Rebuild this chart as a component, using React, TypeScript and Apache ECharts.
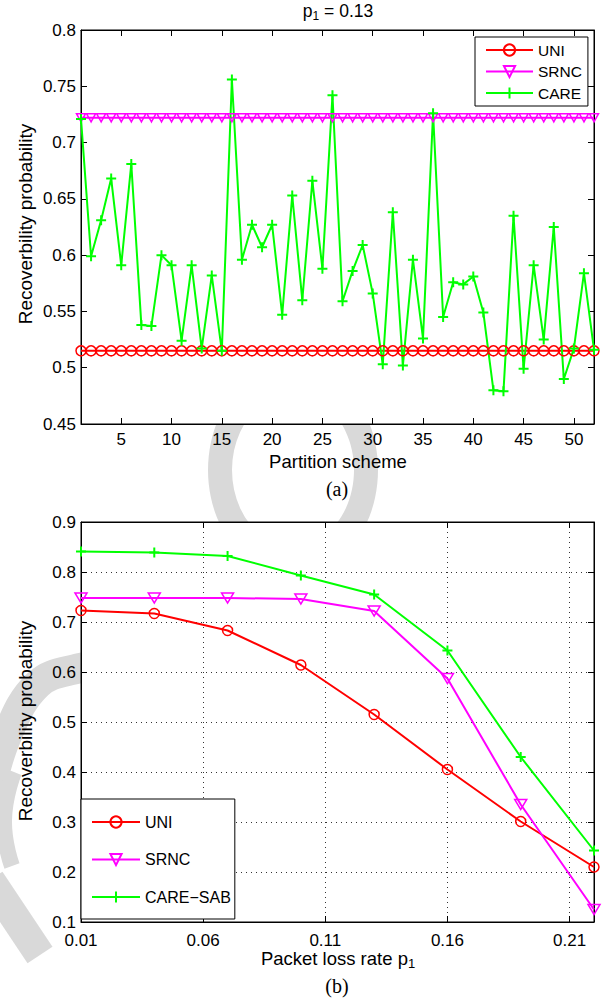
import React, { useEffect, useRef } from "react";
import * as echarts from "echarts";

// ---------- Data: (a) p1 = 0.13 ----------
const partitionSchemes = [
  1, 2, 3, 4, 5, 6, 7, 8, 9, 10, 11, 12, 13, 14, 15, 16, 17, 18, 19, 20, 21, 22, 23, 24, 25, 26,
  27, 28, 29, 30, 31, 32, 33, 34, 35, 36, 37, 38, 39, 40, 41, 42, 43, 44, 45, 46, 47, 48, 49, 50, 51, 52,
];
const schemeTicks = [5, 10, 15, 20, 25, 30, 35, 40, 45, 50];
const uniA = [
  0.515, 0.515, 0.515, 0.515, 0.515, 0.515, 0.515, 0.515, 0.515, 0.515, 0.515, 0.515, 0.515,
  0.515, 0.515, 0.515, 0.515, 0.515, 0.515, 0.515, 0.515, 0.515, 0.515, 0.515, 0.515, 0.515,
  0.515, 0.515, 0.515, 0.515, 0.515, 0.515, 0.515, 0.515, 0.515, 0.515, 0.515, 0.515, 0.515,
  0.515, 0.515, 0.515, 0.515, 0.515, 0.515, 0.515, 0.515, 0.515, 0.515, 0.515, 0.515, 0.515,
];
const srncA = [
  0.722, 0.722, 0.722, 0.722, 0.722, 0.722, 0.722, 0.722, 0.722, 0.722, 0.722, 0.722, 0.722,
  0.722, 0.722, 0.722, 0.722, 0.722, 0.722, 0.722, 0.722, 0.722, 0.722, 0.722, 0.722, 0.722,
  0.722, 0.722, 0.722, 0.722, 0.722, 0.722, 0.722, 0.722, 0.722, 0.722, 0.722, 0.722, 0.722,
  0.722, 0.722, 0.722, 0.722, 0.722, 0.722, 0.722, 0.722, 0.722, 0.722, 0.722, 0.722, 0.722,
];
const careA = [
  0.721, 0.599, 0.631, 0.668, 0.591, 0.681, 0.538, 0.537, 0.6, 0.591, 0.524, 0.591, 0.517,
  0.582, 0.515, 0.756, 0.596, 0.627, 0.607, 0.627, 0.547, 0.653, 0.56, 0.666, 0.588, 0.742,
  0.559, 0.586, 0.609, 0.566, 0.503, 0.638, 0.502, 0.596, 0.526, 0.726, 0.545, 0.576, 0.574,
  0.581, 0.549, 0.48, 0.479, 0.635, 0.499, 0.591, 0.525, 0.625, 0.49, 0.517, 0.584, 0.516,
];

// ---------- Data: (b) ----------
const lossRates = [0.01, 0.04, 0.07, 0.1, 0.13, 0.16, 0.19, 0.22];
const uniB = [0.723, 0.717, 0.683, 0.614, 0.515, 0.405, 0.301, 0.21];
const srncB = [0.748, 0.748, 0.748, 0.746, 0.722, 0.587, 0.335, 0.125];
const careSabB = [0.841, 0.839, 0.832, 0.793, 0.755, 0.643, 0.43, 0.243];

const legendA = ["UNI", "SRNC", "CARE"];
const legendB = ["UNI", "SRNC", "CARE\u2212SAB"];

const FONT = "'Liberation Sans', Arial, Helvetica, sans-serif";
const SERIF = "'Liberation Serif', 'Times New Roman', serif";
const RED = "#ff0000";
const MAG = "#ff00ff";
const GRN = "#00ff00";
const WM = "#d9d9d9";
const PLUS = "path://M0,5L10,5M5,0L5,10";

function mkSeries(
  name: string,
  xs: number[],
  ys: number[],
  color: string,
  symbol: string,
  size: number | number[],
  rotate: number,
  axisIdx: number,
  bw: number
) {
  return {
    type: "line",
    name,
    xAxisIndex: axisIdx,
    yAxisIndex: axisIdx,
    data: xs.map((x, i) => [x, ys[i]]),
    symbol,
    symbolSize: size,
    symbolRotate: rotate,
    showSymbol: true,
    lineStyle: { color, width: 2 },
    itemStyle: { color: "rgba(0,0,0,0)", borderColor: color, borderWidth: bw },
    emphasis: { disabled: true },
    silent: true,
  };
}

const tickStyle = { show: true, inside: true, length: 6, lineStyle: { color: "#000", width: 1 } };
const lineStyleAxis = { show: true, lineStyle: { color: "#000", width: 1 } };
const labelStyle = { fontFamily: FONT, fontSize: 17, color: "#000", lineHeight: 14 };
const dotted = { show: true, lineStyle: { color: "#333", width: 1, type: [1, 4] } };

export default function App() {
  const ref = useRef<HTMLDivElement>(null);

  useEffect(() => {
    if (!ref.current) return;
    const chart = echarts.init(ref.current, undefined, { renderer: "svg" });

    const option: any = {
      animation: false,
      backgroundColor: "#fff",
      grid: [
        { left: 81, top: 30, width: 513, height: 394, show: true, backgroundColor: "#fff", borderColor: "#000", borderWidth: 1 },
        { left: 81, top: 522, width: 513, height: 400, show: true, backgroundColor: "#fff", borderColor: "#000", borderWidth: 1 },
      ],
      xAxis: [
        {
          gridIndex: 0, type: "value", min: 1, max: 52, position: "bottom",
          axisLine: lineStyleAxis,
          axisTick: { ...tickStyle, customValues: schemeTicks },
          axisLabel: { ...labelStyle, margin: 8, customValues: schemeTicks },
          splitLine: { show: false },
        },
        {
          gridIndex: 0, type: "value", min: 1, max: 52, position: "top",
          axisLine: lineStyleAxis,
          axisTick: { ...tickStyle, customValues: schemeTicks },
          axisLabel: { show: false, customValues: schemeTicks },
          splitLine: { show: false },
        },
        {
          gridIndex: 1, type: "value", min: 0.01, max: 0.22, interval: 0.05, position: "bottom",
          axisLine: lineStyleAxis,
          axisTick: tickStyle,
          axisLabel: { ...labelStyle, margin: 11, showMaxLabel: false, formatter: (v: number) => v.toFixed(2) },
          splitLine: dotted,
        },
        {
          gridIndex: 1, type: "value", min: 0.01, max: 0.22, interval: 0.05, position: "top",
          axisLine: lineStyleAxis,
          axisTick: tickStyle,
          axisLabel: { show: false },
          splitLine: { show: false },
        },
      ],
      yAxis: [
        {
          gridIndex: 0, type: "value", min: 0.45, max: 0.8, interval: 0.05, position: "left",
          axisLine: lineStyleAxis, axisTick: tickStyle,
          axisLabel: { ...labelStyle, margin: 5 },
          splitLine: { show: false },
        },
        {
          gridIndex: 0, type: "value", min: 0.45, max: 0.8, interval: 0.05, position: "right",
          axisLine: lineStyleAxis, axisTick: tickStyle,
          axisLabel: { show: false },
          splitLine: { show: false },
        },
        {
          gridIndex: 1, type: "value", min: 0.1, max: 0.9, interval: 0.1, position: "left",
          axisLine: lineStyleAxis, axisTick: tickStyle,
          axisLabel: { ...labelStyle, margin: 5 },
          splitLine: dotted,
        },
        {
          gridIndex: 1, type: "value", min: 0.1, max: 0.9, interval: 0.1, position: "right",
          axisLine: lineStyleAxis, axisTick: tickStyle,
          axisLabel: { show: false },
          splitLine: { show: false },
        },
      ],
      legend: [
        {
          left: 475, top: 37, orient: "vertical", data: legendA,
          padding: [5, 6, 5, 10], itemWidth: 47, itemHeight: 14, itemGap: 5.5,
          borderColor: "#000", borderWidth: 1, backgroundColor: "#fff", borderRadius: 0,
          textStyle: { fontFamily: FONT, fontSize: 15.5, color: "#000" },
          selectedMode: false,
        },
        {
          left: 81, top: 799, orient: "vertical", data: legendB,
          padding: [15, 4, 14, 10], itemWidth: 48, itemHeight: 14, itemGap: 21.5,
          borderColor: "#000", borderWidth: 1, backgroundColor: "#fff", borderRadius: 0,
          textStyle: { fontFamily: FONT, fontSize: 16, color: "#000" },
          selectedMode: false,
        },
      ],
      series: [
        mkSeries(legendA[0], partitionSchemes, uniA, RED, "circle", 10, 0, 0, 1.5),
        mkSeries(legendA[1], partitionSchemes, srncA, MAG, "triangle", [9, 8], 180, 0, 1.5),
        mkSeries(legendA[2], partitionSchemes, careA, GRN, PLUS, 10, 0, 0, 2),
        mkSeries(legendB[0], lossRates, uniB, RED, "circle", 10, 0, 2, 1.5),
        mkSeries(legendB[1], lossRates, srncB, MAG, "triangle", [12, 10], 180, 2, 1.5),
        mkSeries(legendB[2], lossRates, careSabB, GRN, PLUS, 10, 0, 2, 2),
      ],
      graphic: [
        // watermark pieces behind the plot areas
        {
          type: "ring", z: -10, x: 293, y: 470, scaleY: 1.25,
          shape: { cx: 0, cy: 0, r: 85, r0: 61 },
          style: { fill: WM },
        },
        {
          type: "polyline", z: -10,
          shape: { points: [[-12, 800], [6, 738], [38, 684], [80, 668], [95, 668]], smooth: 0.4 },
          style: { stroke: WM, lineWidth: 30, fill: null },
        },
        {
          type: "polyline", z: -10,
          shape: { points: [[14, 772], [4, 820], [12, 866]], smooth: 0.5 },
          style: { stroke: WM, lineWidth: 16, fill: null },
        },
        {
          type: "polyline", z: -10,
          shape: { points: [[-10, 880], [40, 955]] },
          style: { stroke: WM, lineWidth: 30, fill: null },
        },
        // title of (a)
        {
          type: "text", x: 338, y: 11, z: 10,
          style: {
            text: "{m|p}{s|1}{m| = 0.13}",
            align: "center", verticalAlign: "middle",
            rich: {
              m: { fontFamily: FONT, fontSize: 17.5, fill: "#000", lineHeight: 22, verticalAlign: "middle" },
              s: { fontFamily: FONT, fontSize: 12, fill: "#000", lineHeight: 12, verticalAlign: "bottom" },
            },
          },
        },
        // y axis names
        {
          type: "text", x: 25, y: 224, rotation: Math.PI / 2, z: 10,
          style: { text: "Recoverbility probability", fontFamily: FONT, fontSize: 19, fill: "#000", align: "center", verticalAlign: "middle" },
        },
        {
          type: "text", x: 25, y: 721, rotation: Math.PI / 2, z: 10,
          style: { text: "Recoverbility probability", fontFamily: FONT, fontSize: 19, fill: "#000", align: "center", verticalAlign: "middle" },
        },
        // x axis names
        {
          type: "text", x: 338, y: 461, z: 10,
          style: { text: "Partition scheme", fontFamily: FONT, fontSize: 18.5, fill: "#000", align: "center", verticalAlign: "middle" },
        },
        {
          type: "text", x: 338, y: 958, z: 10,
          style: {
            text: "{m|Packet loss rate p}{s|1}",
            align: "center", verticalAlign: "middle",
            rich: {
              m: { fontFamily: FONT, fontSize: 18.5, fill: "#000", lineHeight: 24, verticalAlign: "middle" },
              s: { fontFamily: FONT, fontSize: 13, fill: "#000", lineHeight: 13, verticalAlign: "bottom" },
            },
          },
        },
        // panel captions
        {
          type: "text", x: 337, y: 489, z: 10,
          style: { text: "(a)", fontFamily: SERIF, fontSize: 20, fill: "#000", align: "center", verticalAlign: "middle" },
        },
        {
          type: "text", x: 337, y: 986, z: 10,
          style: { text: "(b)", fontFamily: SERIF, fontSize: 20, fill: "#000", align: "center", verticalAlign: "middle" },
        },
      ],
    };

    chart.setOption(option);
    return () => {
      chart.dispose();
    };
  }, []);

  return (
    <div
      ref={ref}
      style={{ position: "absolute", left: 0, top: 0, width: 607, height: 1000 }}
    />
  );
}
